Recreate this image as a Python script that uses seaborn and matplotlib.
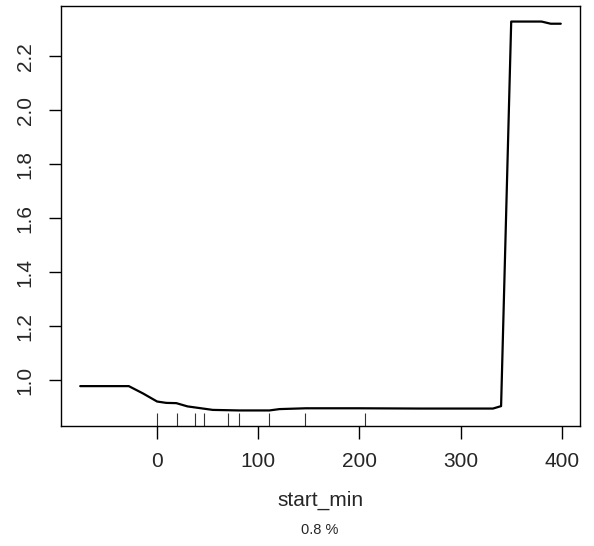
import numpy as np
import pandas as pd
import matplotlib
matplotlib.use("Agg")
import matplotlib.pyplot as plt
import seaborn as sns

# Partial dependence curve for start_min
start_min = [-76, -28, -14, 0, 9, 19, 30, 55, 81, 111, 121, 147, 200, 260, 332, 340, 350, 380, 389, 399]
yhat = [0.979, 0.979, 0.952, 0.922, 0.917, 0.916, 0.904, 0.891, 0.889, 0.889,
        0.894, 0.897, 0.897, 0.896, 0.896, 0.905, 2.328, 2.328, 2.320, 2.320]

# deciles of the training data (rug)
rug_x = [0, 20, 37, 46, 70, 81, 111, 146, 205]

x_ticks = [0, 100, 200, 300, 400]
y_ticks = [1.0, 1.2, 1.4, 1.6, 1.8, 2.0, 2.2]
x_label = "start_min"
sub_label = "0.8 %"

df = pd.DataFrame({"start_min": start_min, "yhat": yhat})

sns.set_style("white")
plt.rcParams["font.family"] = ["Liberation Sans", "DejaVu Sans"]

W, H = 594, 546
fig = plt.figure(figsize=(W / 100, H / 100), dpi=100)
ax = fig.add_axes([61 / W, 120 / H, 519 / W, 420 / H])

sns.lineplot(data=df, x="start_min", y="yhat", ax=ax, color="black",
             linewidth=1.6, estimator=None, sort=False)
sns.rugplot(x=rug_x, ax=ax, height=0.03, color="#333333", linewidth=0.8)

# R style 4% padding
xr = max(start_min) - min(start_min)
yr = max(yhat) - min(yhat)
ax.set_xlim(min(start_min) - 0.04 * xr, max(start_min) + 0.04 * xr)
ax.set_ylim(min(yhat) - 0.04 * yr, max(yhat) + 0.04 * yr)

ax.set_xticks(x_ticks)
ax.set_xticklabels([str(v) for v in x_ticks])
ax.set_yticks(y_ticks)
ax.set_yticklabels([f"{v:.1f}" for v in y_ticks], rotation=90, va="center")

for s in ax.spines.values():
    s.set_visible(True)
    s.set_color("black")
    s.set_linewidth(1.0)

ax.tick_params(axis="both", which="both", direction="out", length=9, width=1.0,
               color="black", labelsize=15, pad=10)
ax.tick_params(axis="x", bottom=True, top=False)
ax.tick_params(axis="y", left=True, right=False)

ax.set_xlabel(x_label, fontsize=15, labelpad=14)
ax.set_ylabel("")
fig.text(320 / W, 1 - 530 / H, sub_label, ha="center", va="center", fontsize=10.5)

fig.savefig("out.png", dpi=100, facecolor="white")
